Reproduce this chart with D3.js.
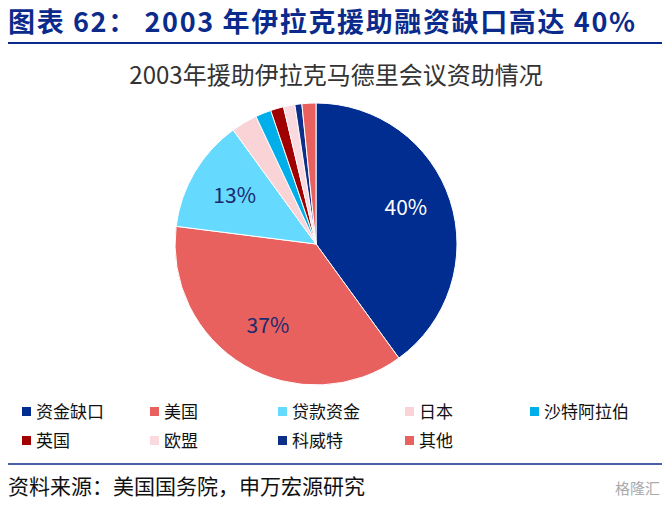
<!DOCTYPE html><html><head><meta charset="utf-8"><script src="https://cdn.jsdelivr.net/npm/d3@7"></script>
<style>body{margin:0;background:#fff;font-family:"Noto Sans CJK SC","Noto Sans",sans-serif}</style></head><body><svg id="c" width="670" height="507"></svg><script>
const categories=["资金缺口","美国","贷款资金","日本","沙特阿拉伯","英国","欧盟","科威特","其他"];
const values=[40,37,13,3,1.8,1.5,1.3,0.8,1.6];
const colors=["#002d8f","#e8615f","#66d9ff","#f9d3d6","#00aeea","#a00000","#fad9df","#0d2f8a","#e8615f"];
const labels=["40%","37%","13%","","","","","",""];
const labelColors=["#fff","#1d2a6e","#1d2a6e"];
const svg=d3.select("#c");
svg.append("text").attr("x",8).attr("y",32).attr("fill","#0b2b8c").attr("font-size",27).attr("font-weight","bold").attr("textLength",627).text("图表 62：  2003 年伊拉克援助融资缺口高达 40%");
svg.append("line").attr("x1",8).attr("x2",662).attr("y1",43).attr("y2",43).attr("stroke","#0b2b8c").attr("stroke-width",2);
svg.append("text").attr("x",336).attr("y",84).attr("text-anchor","middle").attr("fill","#333").attr("font-size",24).text("2003年援助伊拉克马德里会议资助情况");
const cx=316,cy=244,r=141;
const pie=d3.pie().sort(null)(values);
const arc=d3.arc().innerRadius(0).outerRadius(r);
const g=svg.append("g").attr("transform",`translate(${cx},${cy})`);
g.selectAll("path").data(pie).join("path").attr("d",arc).attr("fill",(d,i)=>colors[i]).attr("stroke","#fff").attr("stroke-width",1);
const la=d3.arc().innerRadius(r*0.67).outerRadius(r*0.67);
g.selectAll("text.l").data(pie).join("text").attr("transform",(d,i)=>{const c=la.centroid(d);return `translate(${c[0]},${c[1]-(i==0?7:0)})`;}).attr("text-anchor","middle").attr("dy","0.35em").attr("font-size",21).attr("fill",(d,i)=>labelColors[i]||"#000").text((d,i)=>labels[i]);
const lx=[22,150,278,405,530];
const lg=svg.append("g");
categories.forEach((c,i)=>{const x=lx[i%5],y=i<5?412:441;
lg.append("rect").attr("x",x).attr("y",y-5).attr("width",9).attr("height",9).attr("fill",colors[i]);
lg.append("text").attr("x",x+14).attr("y",y+6).attr("font-size",17).attr("fill","#111").text(c);});
svg.append("line").attr("x1",8).attr("x2",662).attr("y1",464).attr("y2",464).attr("stroke","#0b2b8c").attr("stroke-width",1.5);
svg.append("text").attr("x",8).attr("y",494).attr("font-size",21).attr("fill","#111").text("资料来源：美国国务院，申万宏源研究");
svg.append("text").attr("x",660).attr("y",494).attr("text-anchor","end").attr("font-size",15).attr("fill","#aaa").text("格隆汇");
</script></body></html>
